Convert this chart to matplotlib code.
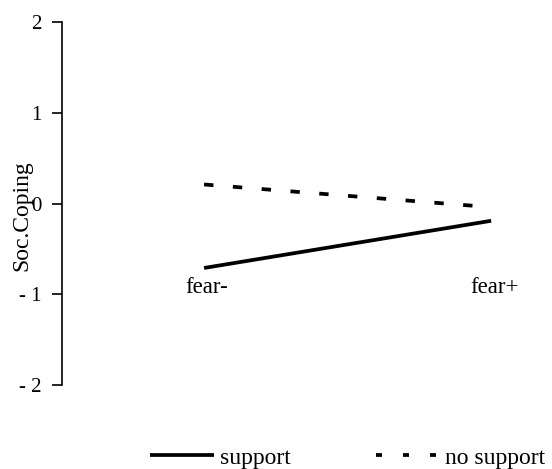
import matplotlib
matplotlib.use("Agg")
import matplotlib.pyplot as plt

plt.rcParams['font.family'] = ['Liberation Serif', 'DejaVu Serif']
plt.rcParams['font.size'] = 15

# 数据
conditions = ["fear-", "fear+"]
x_pos = [0, 1]
support = [-0.71, -0.19]
no_support = [0.21, -0.04]
y_ticks = [-2, -1, 0, 1, 2]
y_ticklabels = ["- 2", "- 1", "0", "1", "2"]
label_y = -0.93

fig = plt.figure(figsize=(5.52, 4.69), dpi=100)
ax = fig.add_axes([0.1123, 0.179, 0.8877, 0.774])

ax.plot(x_pos, support, color='black', lw=2.7, solid_capstyle='butt', label='support')
ax.plot(x_pos, no_support, color='black', lw=2.7, dashes=(2.5, 5.2),
        dash_capstyle='butt', label='no support')

for xp, name in zip(x_pos, conditions):
    ax.text(xp + 0.01, label_y, name, ha='center', va='center', fontsize=16.5)

ax.set_xlim(-0.495, 1.212)
ax.set_ylim(-2, 2)
ax.set_yticks(y_ticks)
ax.set_yticklabels(y_ticklabels)
ax.set_xticks([])
for side in ['top', 'right', 'bottom']:
    ax.spines[side].set_visible(False)
ax.spines['left'].set_linewidth(1.2)
ax.tick_params(axis='y', direction='out', length=7, width=1.2, pad=8)
ax.set_ylabel('Soc.Coping', fontsize=17)
ax.yaxis.set_label_coords(-0.061, 0.466)

leg = fig.legend(loc='center', bbox_to_anchor=(0.63, 0.0235), ncol=2, frameon=False,
                 fontsize=17, handlelength=2.7, handletextpad=0.25, columnspacing=3.6)
leg.get_lines()[1].set_dashes((1.6, 5.6))

fig.savefig('out.png', dpi=100)
